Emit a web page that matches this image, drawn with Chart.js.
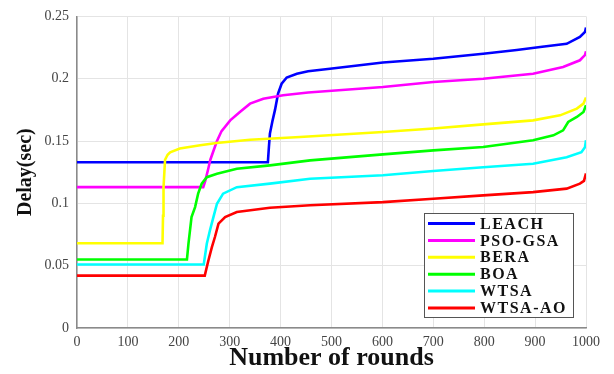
<!DOCTYPE html>
<html lang="en">
<head>
<meta charset="UTF-8">
<title>Delay vs rounds</title>
<script src="https://cdn.jsdelivr.net/npm/chart.js"></script>
<style>
    html, body { margin: 0; padding: 0; background: #fff; }
    #wrap { width: 614px; height: 374px; }
</style>
</head>
<body>
<div id="wrap"><canvas id="graficoDelay" width="614" height="374"></canvas></div>
<script>
    // rounds / delay samples for each protocol
    const leachX = [0, 375, 377, 379, 384, 389, 395, 402, 412, 432, 454, 497, 601, 700, 798, 864, 910, 962, 988, 998, 1000]
    const leachY = [0.133, 0.133, 0.145, 0.156, 0.166, 0.175, 0.188, 0.196, 0.201, 0.204, 0.206, 0.208, 0.213, 0.216, 0.220, 0.223, 0.2255, 0.228, 0.2335, 0.2375, 0.241]

    const psoX = [0, 248, 252, 258, 262, 268, 275, 284, 301, 320, 340, 366, 405, 454, 601, 700, 798, 896, 955, 988, 998, 1000]
    const psoY = [0.113, 0.113, 0.118, 0.128, 0.135, 0.142, 0.150, 0.158, 0.1666, 0.1733, 0.180, 0.184, 0.1867, 0.189, 0.1934, 0.1974, 0.200, 0.204, 0.2094, 0.2148, 0.219, 0.222]

    const beraX = [0, 168, 169, 170, 173, 178, 183, 202, 242, 274, 340, 438, 601, 700, 798, 896, 949, 982, 995, 1000]
    const beraY = [0.068, 0.068, 0.09, 0.113, 0.135, 0.139, 0.141, 0.144, 0.1466, 0.1484, 0.151, 0.1532, 0.1572, 0.160, 0.1634, 0.1666, 0.1706, 0.176, 0.180, 0.185]

    const boaX = [0, 216, 219, 225, 232, 238, 245, 255, 275, 314, 379, 458, 601, 700, 798, 896, 936, 955, 965, 982, 995, 1000]
    const boaY = [0.055, 0.055, 0.0676, 0.089, 0.097, 0.1078, 0.1158, 0.121, 0.1238, 0.1278, 0.1305, 0.1345, 0.1393, 0.1425, 0.1452, 0.1506, 0.1546, 0.1586, 0.1653, 0.1693, 0.1733, 0.1787]

    const wtsaX = [0, 249, 255, 261, 268, 275, 287, 314, 379, 458, 601, 700, 798, 896, 962, 991, 998, 1000]
    const wtsaY = [0.051, 0.051, 0.0676, 0.078, 0.089, 0.0997, 0.1078, 0.113, 0.1158, 0.1198, 0.1225, 0.126, 0.129, 0.1318, 0.137, 0.141, 0.145, 0.1506]

    const aoX = [0, 251, 258, 265, 271, 278, 291, 314, 379, 458, 601, 700, 798, 896, 962, 988, 996, 1000]
    const aoY = [0.042, 0.042, 0.054, 0.0649, 0.073, 0.0837, 0.089, 0.093, 0.0965, 0.0985, 0.101, 0.1037, 0.1064, 0.109, 0.1118, 0.1158, 0.118, 0.124]

    const nomes = ['LEACH', 'PSO-GSA', 'BERA', 'BOA', 'WTSA', 'WTSA-AO']
    const cores = ['#0000ff', '#ff00ff', '#ffff00', '#00ff00', '#00ffff', '#ff0000']
    const xTicks = [0, 100, 200, 300, 400, 500, 600, 700, 800, 900, 1000]
    const yTicks = [0, 0.05, 0.1, 0.15, 0.2, 0.25]

    const series = [[leachX, leachY], [psoX, psoY], [beraX, beraY], [boaX, boaY], [wtsaX, wtsaY], [aoX, aoY]]

    function pontos(xs, ys) {
        return xs.map((x, i) => ({ x: x, y: ys[i] }))
    }

    const fonte = "'Liberation Serif', 'Times New Roman', serif"

    // legend box drawn inside the plot, lower right
    const legendaInterna = {
        id: 'legendaInterna',
        afterDraw(chart) {
            const ctx = chart.ctx
            const area = chart.chartArea
            const w = 149, h = 104
            const x0 = area.right - 13 - w
            const y0 = area.bottom - 11 - h
            ctx.save()
            ctx.fillStyle = '#fff'
            ctx.fillRect(x0, y0, w, h)
            ctx.strokeStyle = '#555'
            ctx.lineWidth = 1
            ctx.strokeRect(x0 + 0.5, y0 + 0.5, w, h)
            ctx.font = 'bold 16px ' + fonte
            ctx.textBaseline = 'middle'
            ctx.letterSpacing = '1.5px'
            chart.data.datasets.forEach((ds, i) => {
                const yy = y0 + 10.5 + i * 16.9
                ctx.strokeStyle = ds.borderColor
                ctx.lineWidth = 3
                ctx.beginPath()
                ctx.moveTo(x0 + 4, yy)
                ctx.lineTo(x0 + 51, yy)
                ctx.stroke()
                ctx.fillStyle = '#111'
                ctx.fillText(ds.label, x0 + 56, yy + 1)
            })
            ctx.restore()
        }
    }

    const config = {
        type: 'scatter',
        data: {
            datasets: series.map((s, i) => ({
                label: nomes[i],
                data: pontos(s[0], s[1]),
                showLine: true,
                borderColor: cores[i],
                backgroundColor: cores[i],
                borderWidth: 2.6,
                pointRadius: 0,
                tension: 0,
                order: 6 - i
            }))
        },
        options: {
            responsive: false,
            animation: false,
            events: [],
            layout: { padding: { top: 16, right: 28, left: 0, bottom: 0 } },
            plugins: {
                legend: { display: false },
                tooltip: { enabled: false }
            },
            scales: {
                x: {
                    type: 'linear',
                    min: 0,
                    max: 1000,
                    afterFit: s => { s.height = 46 },
                    afterBuildTicks: s => { s.ticks = xTicks.map(v => ({ value: v })) },
                    grid: { color: '#e4e4e4', drawTicks: false },
                    border: { color: '#8a8a8a', width: 1.5 },
                    ticks: {
                        padding: 6,
                        color: '#444',
                        font: { family: fonte, size: 14 },
                        maxRotation: 0,
                        callback: v => String(v)
                    },
                    title: {
                        display: true,
                        text: 'Number of rounds',
                        color: '#111',
                        font: { family: fonte, size: 26, weight: 'bold', lineHeight: 1 },
                        padding: { top: 0, bottom: 3 }
                    }
                },
                y: {
                    min: 0,
                    max: 0.25,
                    afterFit: s => { s.width = 77 },
                    afterBuildTicks: s => { s.ticks = yTicks.map(v => ({ value: v })) },
                    grid: { color: '#e4e4e4', drawTicks: false },
                    border: { color: '#8a8a8a', width: 1.5 },
                    ticks: {
                        padding: 8,
                        color: '#444',
                        font: { family: fonte, size: 14 },
                        callback: v => String(v)
                    },
                    title: {
                        display: true,
                        text: 'Delay(sec)',
                        color: '#111',
                        font: { family: fonte, size: 20, weight: 'bold', lineHeight: 1 },
                        padding: { top: 16, bottom: 0 }
                    }
                }
            }
        },
        plugins: [legendaInterna]
    }

    new Chart(document.getElementById('graficoDelay'), config)
</script>
</body>
</html>
